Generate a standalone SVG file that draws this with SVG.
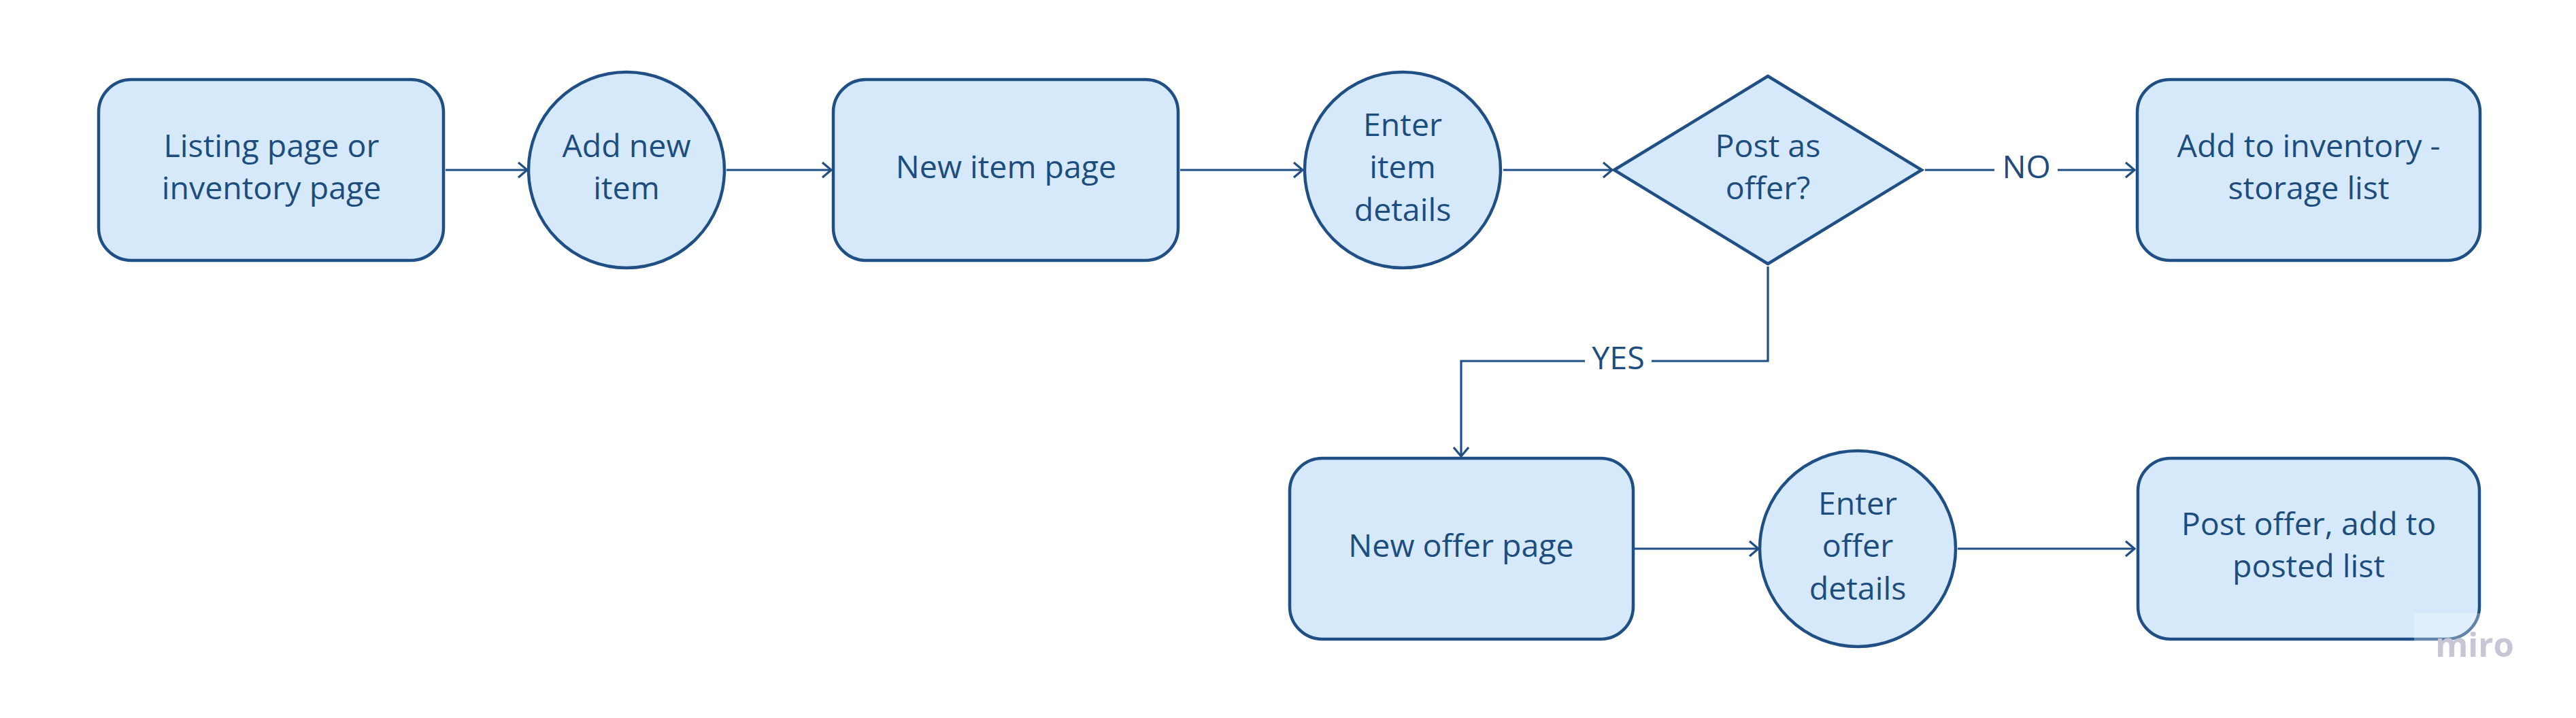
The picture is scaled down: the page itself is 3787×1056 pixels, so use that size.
<svg xmlns="http://www.w3.org/2000/svg" width="3787" height="1056" viewBox="0 0 3787 1056">
<style>
.node{fill:#d5e9fa;stroke:#1f4f84;stroke-width:4.5}
.lbl{font-family:"Open Sans","Noto Sans",sans-serif;font-size:46.5px;fill:#1d4c7e;text-anchor:middle}
.conn{fill:none;stroke:#1f4f84;stroke-width:3.2}
.bg{fill:#ffffff}
</style>
<defs>
<marker id="arr" markerUnits="userSpaceOnUse" markerWidth="30" markerHeight="30" viewBox="-16 -15 20 30" refX="0" refY="0" orient="auto">
<path d="M-13,-11 L0,0 L-13,11" fill="none" stroke="#1f4f84" stroke-width="3.2"/>
</marker>
</defs>
<rect width="3787" height="1056" fill="#ffffff"/>
<g id="connectors">
<path class="conn" d="M655,250 H775" marker-end="url(#arr)"/>
<path class="conn" d="M1068,250 H1222" marker-end="url(#arr)"/>
<path class="conn" d="M1735,250 H1915" marker-end="url(#arr)"/>
<path class="conn" d="M2210,250 H2370" marker-end="url(#arr)"/>
<path class="conn" d="M2830,250 H3138" marker-end="url(#arr)"/>
<rect class="bg" x="2932" y="215" width="93" height="70"/>
<text class="lbl" x="2979" y="262">NO</text>
<path class="conn" d="M2599,392 V531 H2148 V671" marker-end="url(#arr)"/>
<rect class="bg" x="2330" y="496" width="98" height="70"/>
<text class="lbl" x="2379" y="543">YES</text>
<path class="conn" d="M2403,807 H2585" marker-end="url(#arr)"/>
<path class="conn" d="M2878,807 H3138" marker-end="url(#arr)"/>
</g>
<g id="listing-page">
<rect class="node" x="145" y="117" width="507" height="266" rx="48" ry="48"/>
<text class="lbl" x="399" y="231">Listing page or</text>
<text class="lbl" x="399" y="293">inventory page</text>
</g>
<g id="add-new-item">
<circle class="node" cx="921" cy="250" r="144"/>
<text class="lbl" x="921" y="231">Add new</text>
<text class="lbl" x="921" y="293">item</text>
</g>
<g id="new-item-page">
<rect class="node" x="1225" y="117" width="507" height="266" rx="48" ry="48"/>
<text class="lbl" x="1479" y="262">New item page</text>
</g>
<g id="enter-item-details">
<circle class="node" cx="2062" cy="250" r="144"/>
<text class="lbl" x="2062" y="200">Enter</text>
<text class="lbl" x="2062" y="262">item</text>
<text class="lbl" x="2062" y="325">details</text>
</g>
<g id="post-as-offer">
<polygon class="node" points="2373,250 2599,112 2825,250 2599,388"/>
<text class="lbl" x="2599" y="231">Post as</text>
<text class="lbl" x="2599" y="293">offer?</text>
</g>
<g id="add-to-inventory">
<rect class="node" x="3142" y="117" width="504" height="266" rx="48" ry="48"/>
<text class="lbl" x="3394" y="231">Add to inventory -</text>
<text class="lbl" x="3394" y="293">storage list</text>
</g>
<g id="new-offer-page">
<rect class="node" x="1896" y="674" width="505" height="266" rx="48" ry="48"/>
<text class="lbl" x="2148" y="819">New offer page</text>
</g>
<g id="enter-offer-details">
<circle class="node" cx="2731" cy="807" r="144"/>
<text class="lbl" x="2731" y="757">Enter</text>
<text class="lbl" x="2731" y="819">offer</text>
<text class="lbl" x="2731" y="882">details</text>
</g>
<g id="post-offer">
<rect class="node" x="3143" y="674" width="502" height="266" rx="48" ry="48"/>
<text class="lbl" x="3394" y="787">Post offer, add to</text>
<text class="lbl" x="3394" y="849">posted list</text>
</g>
<g id="watermark">
<rect x="3549" y="902" width="155" height="75" fill="#ffffff" fill-opacity="0.3"/>
<text x="3638" y="966" font-family="'Open Sans',sans-serif" font-size="49" font-weight="700" fill="#c6c6d4" text-anchor="middle">miro</text>
</g>
</svg>
